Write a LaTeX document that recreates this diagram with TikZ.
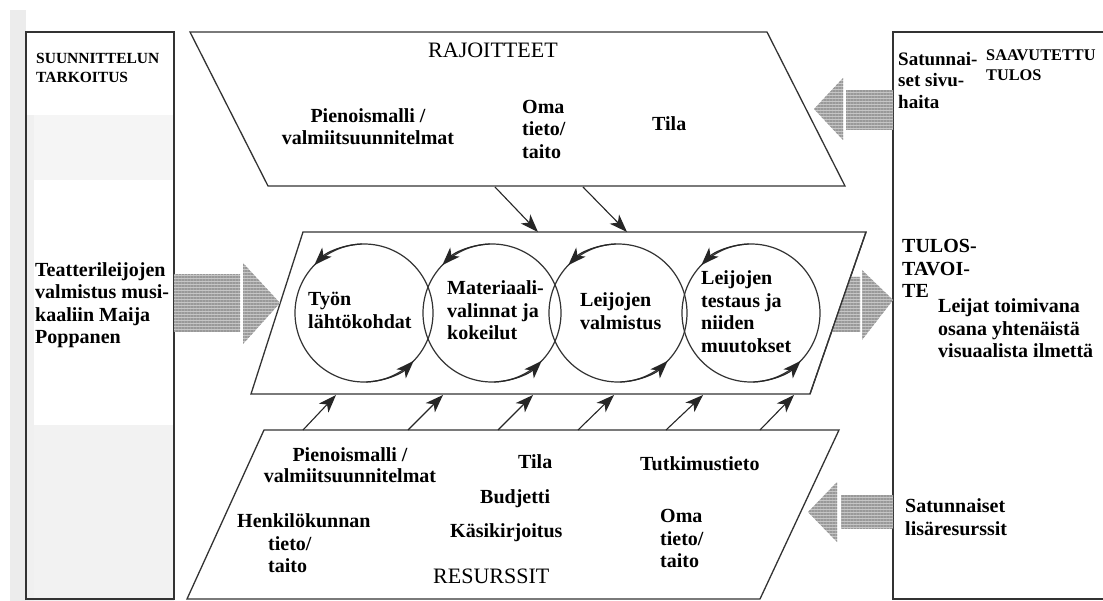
\documentclass[tikz,border=0pt]{standalone}
\usepackage{fontspec}
\setmainfont{Liberation Serif}[BoldFont={Liberation Serif Bold},ItalicFont={Liberation Serif Italic}]
\usetikzlibrary{arrows.meta,patterns.meta}
\newcommand\labfont{\fontsize{20}{22.5}\selectfont\bfseries}
\newcommand\smfont{\fontsize{19}{21.5}\selectfont\bfseries}
\newcommand\capfont{\fontsize{15.5}{19}\selectfont\bfseries}
\newcommand\capbfont{\fontsize{16.3}{20}\selectfont\bfseries}
\newcommand\titfont{\fontsize{22}{26}\selectfont}
\begin{document}
\begin{tikzpicture}[x=1pt,y=-1pt,
  boxline/.style={draw=black!80,line width=1.3pt},
  bandline/.style={draw=black!80,line width=1.3pt,fill=white},
  ring/.style={circle,draw=black!80,line width=1.2pt,minimum size=138pt,inner sep=0pt},
  feedarrow/.style={draw=black!85,line width=1.1pt,-{Stealth[length=18pt,width=13pt,inset=5pt]}},
  cycarrow/.style={draw=black!85,line width=1.2pt,-{Stealth[length=18pt,width=13pt,inset=5pt]}},
  blockarrow/.style={preaction={fill=gray!45},pattern={Lines[angle=0,distance=3pt,line width=1.8pt]},pattern color=gray!80,draw=none},
  mtext/.style={inner sep=0pt,anchor=north west,align=left,font=\labfont},
  ctext/.style={inner sep=0pt,anchor=north,align=center,font=\labfont},
  stext/.style={inner sep=0pt,anchor=base west,font=\labfont},
]
\useasboundingbox (0,0) rectangle (1103,601);
\fill[white] (0,0) rectangle (1103,601);
% scan shading
\fill[gray!15] (10,10) rectangle (26,601);
\fill[gray!8] (26,115) rectangle (174,180);
\fill[gray!10] (26,425) rectangle (174,601);
\fill[gray!12] (26,115) rectangle (34,601);

% side boxes
\draw[boxline] (26,32) rectangle (174,599);
\draw[boxline] (893,32) rectangle (1110,599);

% bands
\draw[bandline] (190,32) -- (767,32) -- (845,186) -- (268,186) -- cycle;
\draw[bandline] (303,232) -- (866,232) -- (810,394) -- (251,394) -- cycle;
\draw[bandline] (264,430) -- (839,430) -- (760,599) -- (187,599) -- cycle;

% block arrows
\path[blockarrow] (174,275) rectangle (240,332);
\path[blockarrow] (243,263) -- (280,303) -- (243,344) -- cycle;
\path[blockarrow] (846,90) rectangle (893,130);
\path[blockarrow] (843,78) -- (814,109) -- (843,140) -- cycle;
\path[blockarrow] (850.4,277) -- (860,277) -- (860,332) -- (831.4,332) -- cycle;
\path[blockarrow] (862,270) -- (893,300) -- (862,340) -- cycle;
\path[blockarrow] (841,495) rectangle (893,528);
\path[blockarrow] (837,482) -- (808,512) -- (837,542) -- cycle;
\draw[draw=black!80,line width=1.3pt] (866,232) -- (810,394);

% circles
\node[ring] (c1) at (364,313) {};
\node[ring] (c2) at (492,313) {};
\node[ring] (c3) at (618,313) {};
\node[ring] (c4) at (751,313) {};
\foreach \c in {c1,c2,c3,c4}{
  \draw[cycarrow] (\c.center) ++(-92:69) arc[start angle=-92,end angle=-136,radius=69];
  \draw[cycarrow] (\c.center) ++(88:69) arc[start angle=88,end angle=44,radius=69];
}

% feed arrows top
\coordinate (ta1) at (495,187); \coordinate (tb1) at (538,232);
\coordinate (ta2) at (583,187); \coordinate (tb2) at (627,232);
\draw[feedarrow] (ta1) -- (tb1);
\draw[feedarrow] (ta2) -- (tb2);
% feed arrows bottom
\coordinate (ba1) at (303,430); \coordinate (bb1) at (336,395);
\coordinate (ba2) at (408,430); \coordinate (bb2) at (443,395);
\coordinate (ba3) at (498,430); \coordinate (bb3) at (533,395);
\coordinate (ba4) at (578,430); \coordinate (bb4) at (614,395);
\coordinate (ba5) at (666,430); \coordinate (bb5) at (703,395);
\coordinate (ba6) at (760,430); \coordinate (bb6) at (794,395);
\foreach \i in {1,...,6}{\draw[feedarrow] (ba\i) -- (bb\i);}

% texts: left box
\node[mtext,font=\capfont] (purp) at (36,49.7) {\strut SUUNNITTELUN\\TARKOITUS};
\node[mtext] (goal) at (35,260.25) {\strut Teatterileijojen\\valmistus musi-\\kaaliin Maija\\Poppanen};

% top band
\node[stext,font=\titfont] (rajo) at (428,58) {RAJOITTEET};
\node[ctext] (rpien) at (368,106.25) {\strut Pienoismalli /\\valmiitsuunnitelmat};
\node[mtext] (roma) at (522,97.25) {\strut Oma\\tieto/\\taito};
\node[stext] (rtila) at (652,131) {Tila};

% right box
\node[mtext,font=\smfont] (sivu) at (898,50) {\strut Satunnai-\\set sivu-\\haita};
\node[mtext,font=\capbfont] (saav) at (986,46) {\strut SAAVUTETTU\\TULOS};
\node[mtext] (tulos) at (902,237) {\strut TULOS-\\TAVOI-\\TE};
\node[mtext] (leijat) at (938,297) {\strut Leijat toimivana\\osana yhtenäistä\\visuaalista ilmettä};
\node[mtext] (lisa) at (905,497) {\strut Satunnaiset\\lisäresurssit};

% circle labels
\node[mtext] (t1) at (308,290) {\strut Työn\\lähtökohdat};
\node[mtext] (t2) at (447,279) {\strut Materiaali-\\valinnat ja\\kokeilut};
\node[mtext] (t3) at (580,291) {\strut Leijojen\\valmistus};
\node[mtext] (t4) at (701,269) {\strut Leijojen\\testaus ja\\niiden\\muutokset};

% bottom band
\node[ctext,font=\fontsize{20}{21}\selectfont\bfseries] (bpien) at (350,447) {\strut Pienoismalli /\\valmiitsuunnitelmat};
\node[mtext] (henk) at (237,512) {\strut Henkilökunnan\\\hspace*{31pt}tieto/\\\hspace*{31pt}taito};
\node[stext] (btila) at (518,468) {Tila};
\node[stext] (budj) at (480,503) {Budjetti};
\node[stext] (kasi) at (450,537) {Käsikirjoitus};
\node[stext,font=\titfont] (resu) at (433,583) {RESURSSIT};
\node[stext] (tutk) at (640,470) {Tutkimustieto};
\node[mtext] (boma) at (660,507) {\strut Oma\\tieto/\\taito};
\end{tikzpicture}
\end{document}
